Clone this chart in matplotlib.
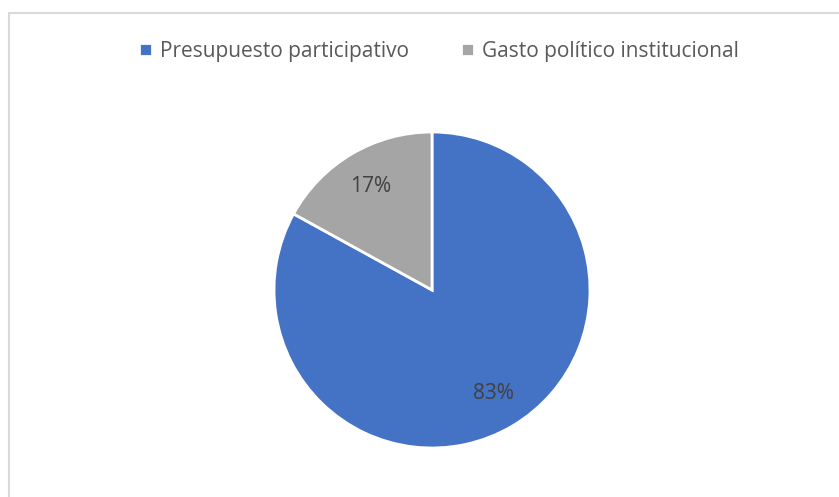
import matplotlib.pyplot as plt
from matplotlib.patches import Rectangle

labels = ["Presupuesto participativo", "Gasto político institucional"]
values = [83, 17]
colors = ["#4472C4", "#A5A5A5"]

W, H = 839, 497
fig = plt.figure(figsize=(W / 100, H / 100), dpi=100)
plt.rcParams['font.family'] = ['Open Sans', 'DejaVu Sans']

# chart border (right/bottom edges run off the image)
fig.add_artist(Rectangle((8.5 / W, -0.1), 1.2, 1 - 12.5 / H + 0.1,
                         transform=fig.transFigure, fill=False,
                         edgecolor="#D9D9D9", linewidth=1.5))

cx, cy, r = 432, 290, 158
ax = fig.add_axes([(cx - r) / W, (H - cy - r) / H, 2 * r / W, 2 * r / H])
wedges, texts, autotexts = ax.pie(values, colors=colors, startangle=90, counterclock=False,
                                  autopct='%1.0f%%', pctdistance=0.76,
                                  wedgeprops=dict(edgecolor="white", linewidth=2),
                                  textprops=dict(color="#404040", fontsize=15))
ax.set_xlim(-1, 1)
ax.set_ylim(-1, 1)
ax.set_aspect('auto')
ax.axis('off')

fig.legend(wedges, labels, loc='center', bbox_to_anchor=(439 / W, 1 - 51 / H),
           ncol=2, frameon=False, fontsize=15, labelcolor="#595959",
           handlelength=0.6, handleheight=0.6, handletextpad=0.4, columnspacing=2.5)

fig.savefig("out.png", dpi=100)
